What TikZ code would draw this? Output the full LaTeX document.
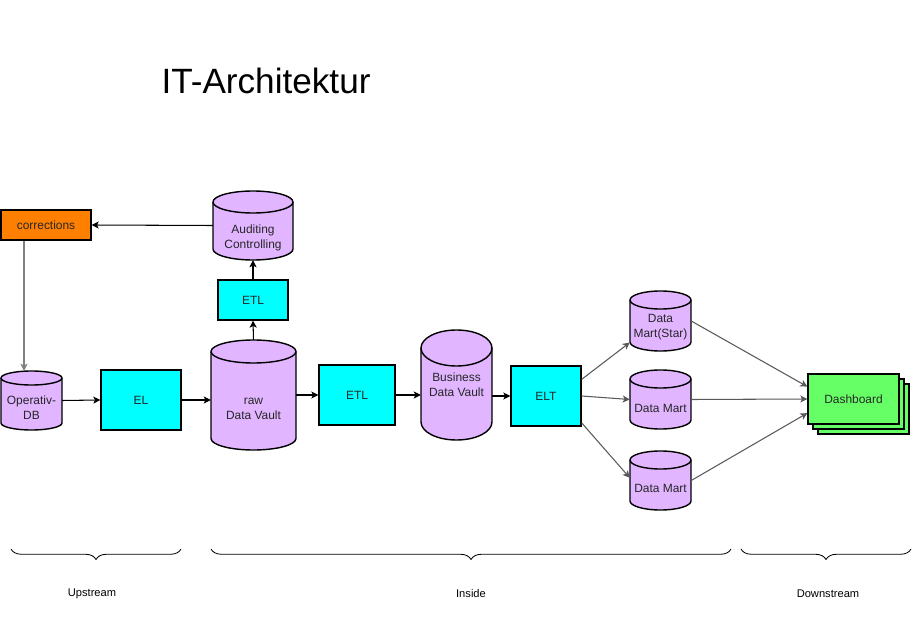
\documentclass[tikz,border=0pt]{standalone}
\usepackage{fontspec}
\setmainfont{Liberation Sans}
\usetikzlibrary{arrows.meta}
\usetikzlibrary{fit}
\usetikzlibrary{shadows}
\usetikzlibrary{decorations.pathreplacing}
\definecolor{dbpurple}{HTML}{E1B5FF}
\definecolor{etlcyan}{HTML}{00FFFF}
\definecolor{corrorange}{HTML}{FF8000}
\definecolor{dashgreen}{HTML}{66FF66}
\definecolor{linegray}{HTML}{595959}
\tikzset{
  lbl/.style={font=\fontsize{10.2}{12.75}\selectfont, text=black!85, align=center},
  proc/.style={draw, line width=1.1pt, fill=etlcyan, lbl, inner sep=0pt},
  arr/.style={-{Stealth[length=6pt,width=6pt,inset=1.5pt]}, line width=0.9pt},
  garr/.style={arr, draw=linegray},
  corrarr/.style={arr, draw=gray, line width=1.6pt},
  dbshape/.style={draw, line width=1.2pt, fill=dbpurple},
  brc/.style={decorate, decoration={brace, mirror, amplitude=9pt}, line width=0.7pt},
  bottomlbl/.style={font=\fontsize{9.5}{11}\selectfont},
}
\newcommand{\dbcyl}[8]{%
  \filldraw[dbshape] (#2,{#3+#6}) -- (#2,{#5-#6})
    arc[start angle=180, end angle=0, x radius={(#4-#2)/2}, y radius=#6]
    -- (#4,{#3+#6})
    arc[start angle=0, end angle=-180, x radius={(#4-#2)/2}, y radius=#6] -- cycle;
  \draw[dbshape, fill=none] (#2,{#3+#6})
    arc[start angle=180, end angle=0, x radius={(#4-#2)/2}, y radius=#6];
  \node[fit={(#2,#3) (#4,#5)}, inner sep=0pt] (#1) {};
  \node[lbl] (#1-txt) at ({(#2+#4)/2},#7) {#8};
}

\begin{document}
\begin{tikzpicture}[x=0.03cm,y=-0.03cm]
\useasboundingbox (0,0) rectangle (912,620);
\node[font=\fontsize{30}{36}\selectfont] (title) at (266,81) {IT-Architektur};

\node[proc, fill=corrorange, minimum width=2.7cm, minimum height=0.9cm] (corrections) at (46,225) {corrections};
\dbcyl{audit}{213}{191}{293}{260}{11}{238}{Auditing\\Controlling}
\node[proc, minimum width=2.1cm, minimum height=1.2cm] (etlup) at (253,300) {ETL};
\dbcyl{opdb}{1}{371}{62}{430}{7}{407.5}{Operativ-\\DB}
\node[proc, minimum width=2.4cm, minimum height=1.8cm] (el) at (141,400) {EL};
\dbcyl{raw}{211}{340}{296}{450}{11.5}{409}{raw\\Data Vault}
\node[proc, minimum width=2.28cm, minimum height=1.8cm] (etl) at (357,395) {ETL};
\dbcyl{bdv}{421}{330}{492}{440}{18}{385}{Business\\Data Vault}
\node[proc, minimum width=2.1cm, minimum height=1.8cm] (elt) at (546,396) {ELT};
\dbcyl{dm1}{630}{291}{691}{351}{9}{327.5}{Data\\Mart(Star)}
\dbcyl{dm2}{630}{370}{691}{429}{9}{408}{Data Mart}
\dbcyl{dm3}{630}{451}{691}{510}{9}{488}{Data Mart}
\node[proc, fill=dashgreen, minimum width=2.73cm, minimum height=1.5cm,
  double copy shadow={shadow xshift=0.15cm, shadow yshift=-0.15cm, fill=dashgreen, draw=black, line width=1.1pt}] (dash) at (853.5,399) {Dashboard};

\draw[arr] (audit.west) -- (corrections.east);
\draw[corrarr] ([xshift=-0.66cm]corrections.south) -- ([xshift=-0.66cm]corrections.south |- opdb.north);
\draw[arr] (etlup.north) -- (audit.south);
\draw[arr] (raw.north) -- (etlup.south);
\draw[arr] (opdb.east) -- (el.west);
\draw[arr] (el.east) -- (el.east -| raw.west);
\draw[arr] (raw.east) -- (etl.west);
\draw[arr] (etl.east) -- (etl.east -| bdv.west);
\draw[arr] (bdv.east |- elt.west) -- (elt.west);
\draw[garr] (elt.25) -- (dm1.215);
\draw[garr] (elt.east) -- (dm2.west);
\draw[garr] (elt.-37) -- (dm3.175);
\draw[garr] (dm1.east) -- (dash.165);
\draw[garr] (dm2.east) -- (dash.west);
\draw[garr] (dm3.east) -- (dash.197);

\draw[brc] (11,549) -- (181,549);
\draw[brc] (211,549) -- (731,549);
\draw[brc] (741,549) -- (911,549);
\node[bottomlbl] (upstream) at (92,594) {Upstream};
\node[bottomlbl] (inside) at (471,594) {Inside};
\node[bottomlbl] (downstream) at (828,594) {Downstream};
\end{tikzpicture}
\end{document}
